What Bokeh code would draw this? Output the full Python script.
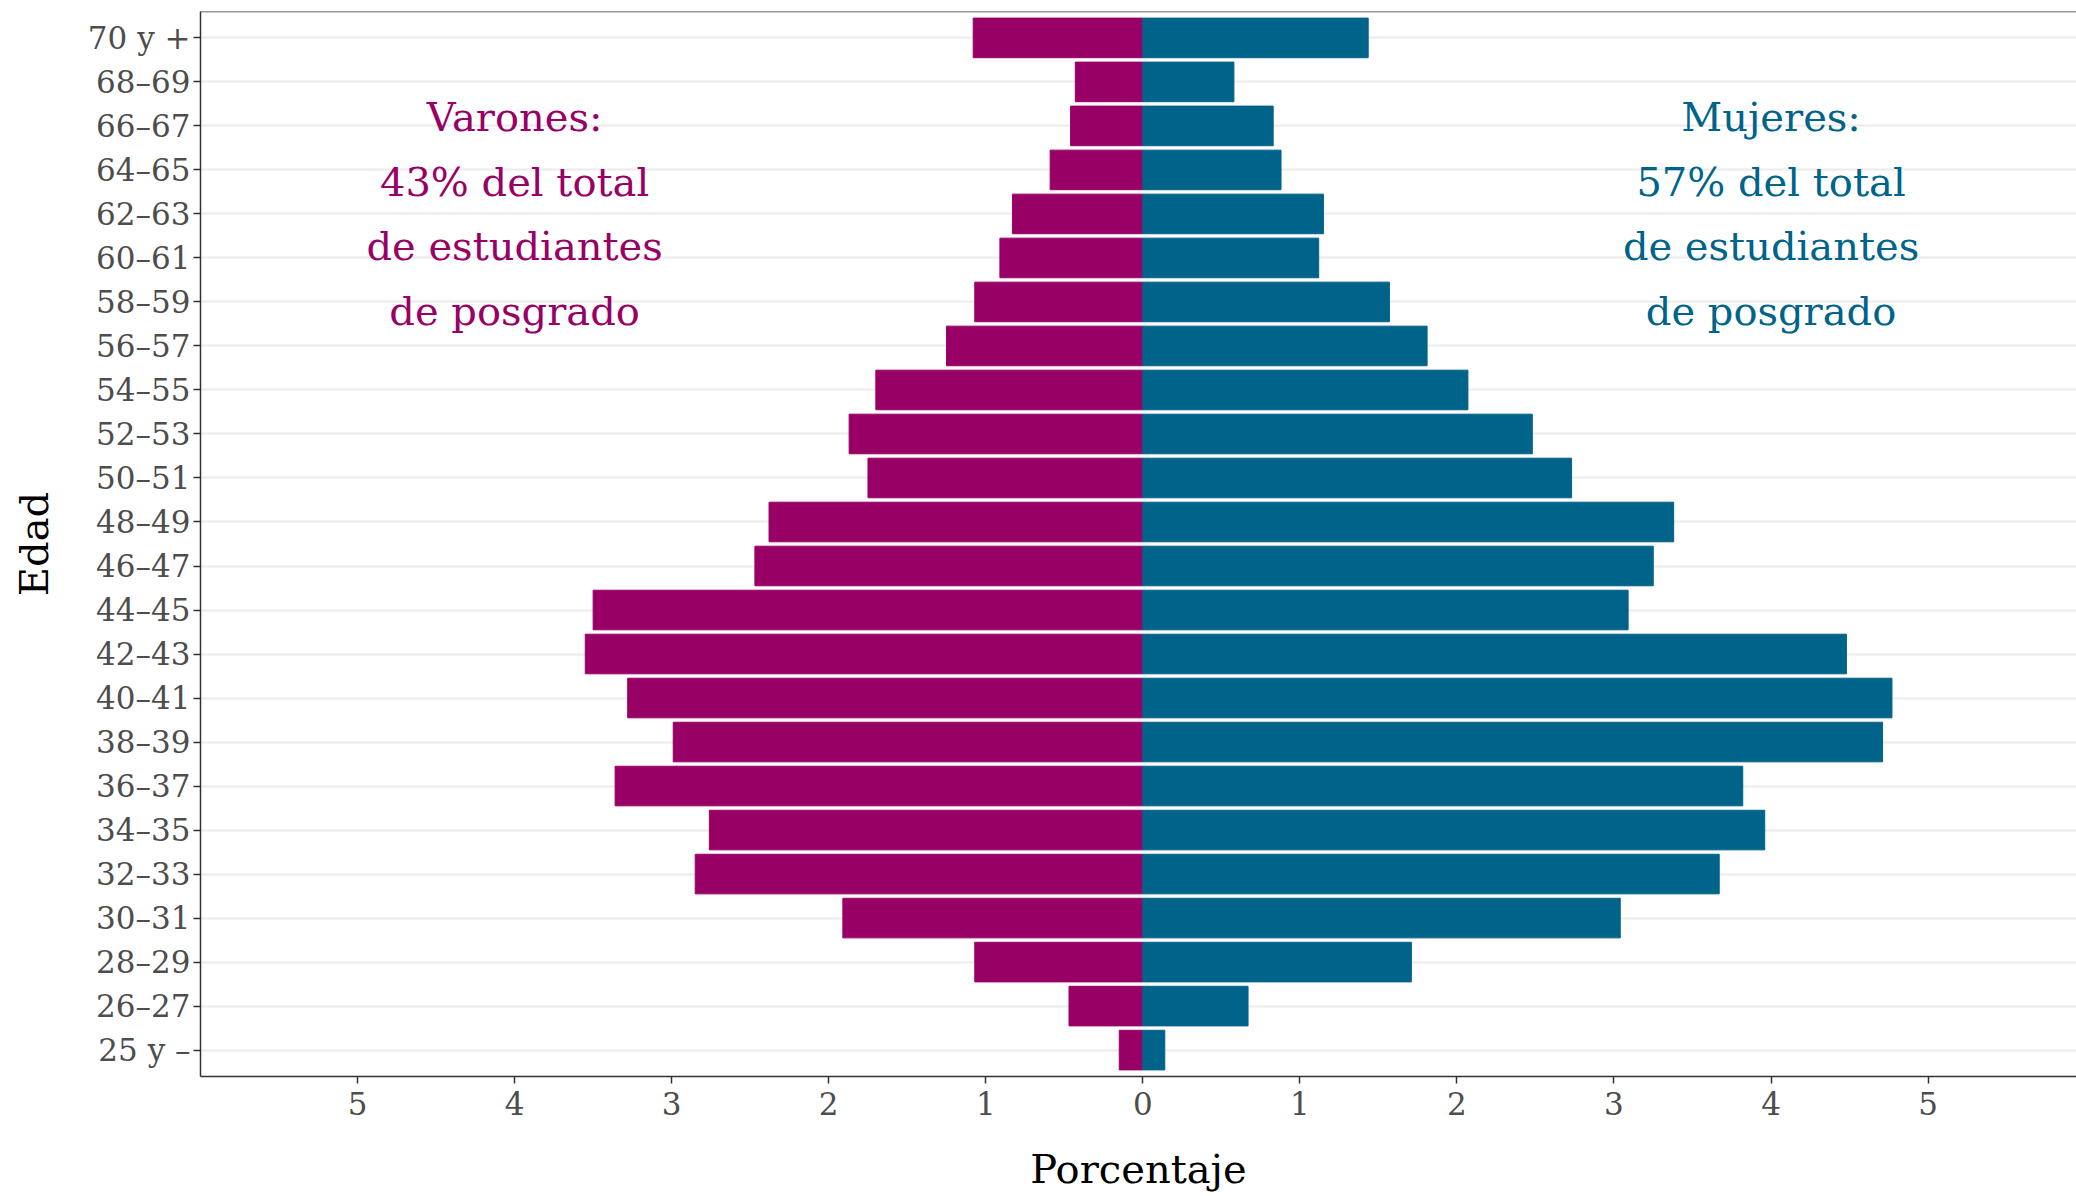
from bokeh.plotting import figure
from bokeh.models import Range1d, FixedTicker, Span, ColumnDataSource
from bokeh.core.properties import value
from bokeh.embed import file_html
from bokeh.resources import INLINE

# ---- data (percent of graduate students) ----
edades = ["25 y \u2013", "26\u201327", "28\u201329", "30\u201331", "32\u201333", "34\u201335",
          "36\u201337", "38\u201339", "40\u201341", "42\u201343", "44\u201345", "46\u201347",
          "48\u201349", "50\u201351", "52\u201353", "54\u201355", "56\u201357", "58\u201359",
          "60\u201361", "62\u201363", "64\u201365", "66\u201367", "68\u201369", "70 y +"]
varones = [0.15, 0.47, 1.07, 1.91, 2.85, 2.76, 3.36, 2.99, 3.28, 3.55, 3.50, 2.47,
           2.38, 1.75, 1.87, 1.70, 1.25, 1.07, 0.91, 0.83, 0.59, 0.46, 0.43, 1.08]
mujeres = [0.14, 0.67, 1.71, 3.04, 3.67, 3.96, 3.82, 4.71, 4.77, 4.48, 3.09, 3.25,
           3.38, 2.73, 2.48, 2.07, 1.81, 1.57, 1.12, 1.15, 0.88, 0.83, 0.58, 1.435]
x_ticks = [-5, -4, -3, -2, -1, 0, 1, 2, 3, 4, 5]
texto_varones = "Varones:\n43% del total\nde estudiantes\nde posgrado"
texto_mujeres = "Mujeres:\n57% del total\nde estudiantes\nde posgrado"

MAG = "#990066"
BLU = "#00638A"
FONT = "DejaVu Serif"

idx = list(range(len(edades)))
src = ColumnDataSource(dict(
    y=idx,
    left_v=[-v for v in varones],
    zero=[0] * len(idx),
    right_m=mujeres,
))

p = figure(width=2076, height=1196, output_backend="svg", toolbar_location=None,
           x_range=Range1d(-6.0, 5.945), y_range=Range1d(-0.6, len(edades) - 0.4),
           min_border_left=200, min_border_right=0, min_border_top=11, min_border_bottom=120)

p.hbar(y="y", left="left_v", right="zero", height=0.9, color=MAG, source=src)
p.hbar(y="y", left="zero", right="right_m", height=0.9, color=BLU, source=src)

# annotations
p.text(x=[-4.0], y=[19], text=[texto_varones], text_align="center", text_baseline="middle",
       text_font=value(FONT), text_font_size="40px", text_color=MAG, text_line_height=1.41)
p.text(x=[4.0], y=[19], text=[texto_mujeres], text_align="center", text_baseline="middle",
       text_font=value(FONT), text_font_size="40px", text_color=BLU, text_line_height=1.41)

# frame
p.outline_line_color = None
p.add_layout(Span(location=p.y_range.end, dimension="width", line_color="#333333", line_width=1.5))

# grids
p.xgrid.grid_line_color = None
p.ygrid.ticker = FixedTicker(ticks=idx)
p.ygrid.grid_line_color = "#EBEBEB"
p.ygrid.grid_line_width = 2

# axes
p.yaxis.ticker = FixedTicker(ticks=idx)
p.yaxis.major_label_overrides = {i: lab for i, lab in zip(idx, edades)}
p.xaxis.ticker = FixedTicker(ticks=x_ticks)
p.xaxis.major_label_overrides = {t: str(abs(t)) for t in x_ticks}

for ax in (p.xaxis, p.yaxis):
    ax.axis_line_color = "#333333"
    ax.axis_line_width = 1.5
    ax.major_tick_line_color = "#333333"
    ax.major_tick_line_width = 1.5
    ax.major_tick_in = 0
    ax.major_tick_out = 7
    ax.minor_tick_line_color = None
    ax.major_label_text_font = FONT
    ax.major_label_text_font_size = "31px"
    ax.major_label_text_color = "#4D4D4D"
    ax.axis_label_text_font = FONT
    ax.axis_label_text_font_size = "40px"
    ax.axis_label_text_font_style = "normal"
    ax.axis_label_text_color = "black"

p.xaxis.axis_label = "Porcentaje"
p.yaxis.axis_label = "Edad"
p.xaxis.major_label_standoff = 8
p.yaxis.major_label_standoff = 3
p.xaxis.axis_label_standoff = 28
p.yaxis.axis_label_standoff = 28

open("out.html", "w").write(file_html(p, INLINE))
